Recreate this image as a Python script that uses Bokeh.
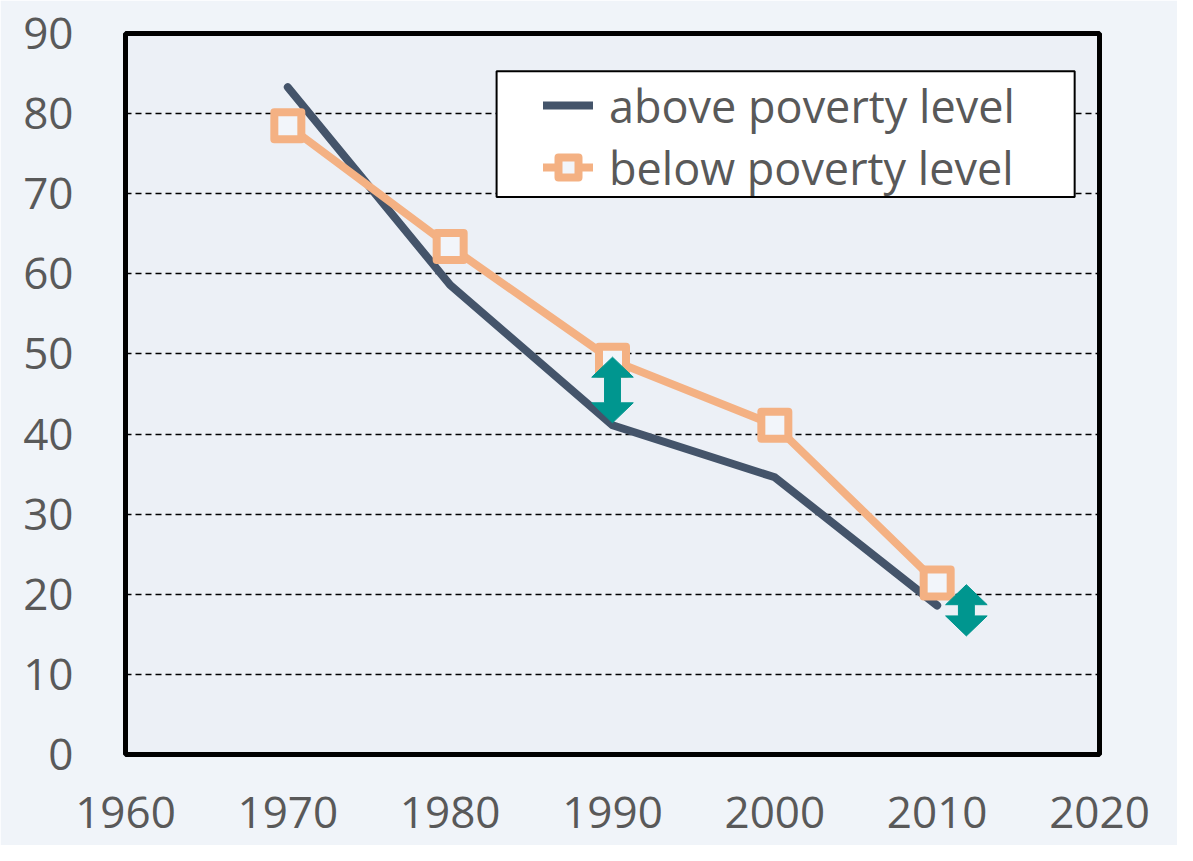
from bokeh.plotting import figure
from bokeh.models import Legend, LegendItem, FixedTicker, Range1d, BoxAnnotation
from bokeh.embed import file_html
from bokeh.resources import INLINE

years = [1970, 1980, 1990, 2000, 2010]
above = [83.3, 58.6, 41.1, 34.6, 18.6]
below = [78.5, 63.4, 49.2, 41.1, 21.4]
arrow_x = [1990, 2011.8]
arrow_top = [49.6, 21.2]
arrow_bottom = [41.4, 14.8]
x_ticks = [1960, 1970, 1980, 1990, 2000, 2010, 2020]
y_ticks = [0, 10, 20, 30, 40, 50, 60, 70, 80, 90]

FONT = "Open Sans"
TXT = "#595959"
DARK = "#44546a"
ORANGE = "#f4b183"
TEAL = "#00968f"

p = figure(width=1177, height=845, output_backend="svg", toolbar_location=None,
           x_range=Range1d(1960, 2020), y_range=Range1d(0, 90),
           min_border_left=125, min_border_right=78, min_border_top=33, min_border_bottom=91)
p.background_fill_color = "#ecf0f6"
p.border_fill_color = "#f0f4f9"
p.outline_line_color = "black"
p.outline_line_width = 5

for ax in (p.xaxis[0], p.yaxis[0]):
    ax.axis_line_color = None
    ax.major_tick_line_color = None
    ax.minor_tick_line_color = None
    ax.major_label_text_font = FONT
    ax.major_label_text_font_size = "44px"
    ax.major_label_text_color = TXT
p.xaxis.ticker = FixedTicker(ticks=x_ticks)
p.yaxis.ticker = FixedTicker(ticks=y_ticks)
p.xaxis.major_label_standoff = 36
p.yaxis.major_label_standoff = 46

p.xgrid.grid_line_color = None
p.ygrid.ticker = FixedTicker(ticks=y_ticks[1:-1])
p.ygrid.grid_line_color = "black"
p.ygrid.grid_line_dash = "6 4"
p.ygrid.grid_line_width = 1.5

r_above = p.line(years, above, line_color=DARK, line_width=8, line_cap="round", line_join="round")
r_below = p.line(years, below, line_color=ORANGE, line_width=8, line_cap="round", line_join="round")
r_below_m = p.scatter(years, below, marker="square", size=27, line_color=ORANGE, line_width=8,
                      line_join="round", fill_color="#f2f5fa")

# double-headed arrows built from arrow arrays
hw, sw, hh = 1.28, 0.49, 2.5
xs, ys = [], []
for x, t, b in zip(arrow_x, arrow_top, arrow_bottom):
    xs.append([x, x + hw, x + sw, x + sw, x + hw, x, x - hw, x - sw, x - sw, x - hw])
    ys.append([t, t - hh, t - hh, b + hh, b + hh, b, b + hh, b + hh, t - hh, t - hh])
p.patches(xs, ys, fill_color=TEAL, line_color=TEAL, line_width=1)

# legend frame
p.add_layout(BoxAnnotation(left=1982.86, right=2018.47, top=85.3, bottom=69.6,
                           fill_color="white", fill_alpha=1,
                           line_color="black", line_alpha=1, line_width=2))

legend = Legend(items=[LegendItem(label="above poverty level", renderers=[r_above]),
                       LegendItem(label="below poverty level", renderers=[r_below, r_below_m])],
                location=(418, 556))
legend.label_text_font = FONT
legend.label_text_font_size = "45px"
legend.label_text_color = TXT
legend.glyph_width = 50
legend.glyph_height = 62
legend.label_height = 62
legend.label_standoff = 16
legend.spacing = 0
legend.padding = 0
legend.border_line_color = None
legend.background_fill_alpha = 0
legend.margin = 0
p.add_layout(legend, "center")

open("out.html", "w").write(file_html(p, INLINE))
